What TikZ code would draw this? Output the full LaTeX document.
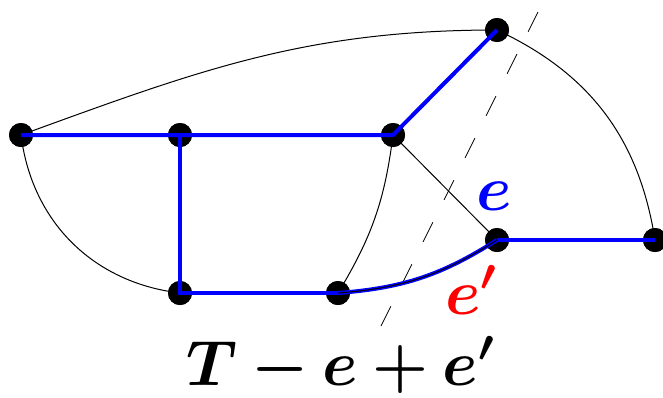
\RequirePackage{fix-cm}
\documentclass[tikz,border=0pt]{standalone}
\usepackage{amsmath,bm}
\begin{document}
\begin{tikzpicture}[x=1pt,y=-1pt,
  vtx/.style={circle,fill=black,inner sep=0pt,minimum size=24pt},
  thin edge/.style={draw=black,line width=1pt},
  tree/.style={draw=blue,line width=4pt},
  lbl/.style={font=\fontsize{64}{66}\selectfont}]
\useasboundingbox (0,0) rectangle (663,397);
\coordinate (dtop) at (540,8);
\coordinate (dbot) at (381,326);
\node[vtx] (A) at (21,135) {};
\node[vtx] (B) at (180,135) {};
\node[vtx] (C) at (393,135) {};
\node[vtx] (D) at (497,30) {};
\node[vtx] (E) at (497,240) {};
\node[vtx] (F) at (655,240) {};
\node[vtx] (G) at (180,293) {};
\node[vtx] (H) at (338,293) {};
% thin edges
\draw[thin edge] (A.center) to[out=20,in=180] (D.center);
\draw[thin edge] (D.center) to[bend left=28] (F.center);
\draw[thin edge] (A.center) to[bend right=38] (G.center);
\draw[thin edge] (C.center) to[bend left=12] (H.center);
\draw[thin edge] (C.center) -- (E.center);
\draw[black,line width=0.8pt,dash pattern=on 22pt off 25pt] (dbot) -- (dtop);
% redraw vertices on top of thin edges
\foreach \n in {A,B,C,D,E,F,G,H} \fill (\n) circle (12pt);
% tree edges
\draw[tree] (A.center) -- (B.center) -- (C.center) -- (D.center);
\draw[tree] (B.center) -- (G.center) -- (H.center);
\draw[tree] (E.center) -- (F.center);
\draw[tree] (H.center) to[bend right=14] (E.center);
\draw[black,line width=1pt] (H.center) to[bend right=14] (E.center);
\node[blue,lbl] (le) at (494,196) {$\bm{e}$};
\node[red,lbl] (lep) at (471,290) {$\bm{e'}$};
\node[lbl,anchor=base] (title) at (340,385) {$\bm{T-e+e'}$};
\end{tikzpicture}
\end{document}
